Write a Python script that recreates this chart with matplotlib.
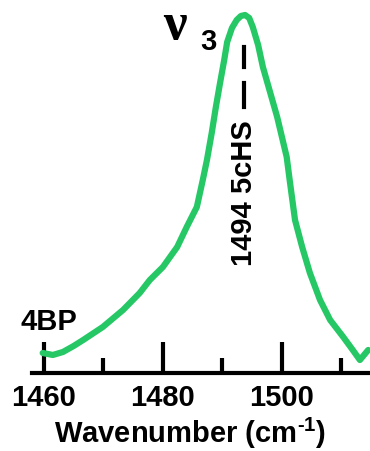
import matplotlib.pyplot as plt
import numpy as np

# Raman spectrum (wavenumber, intensity in arbitrary units)
wavenumber = [1459.8, 1461.5, 1463.2, 1465.0, 1466.6, 1469.9, 1473.3, 1476.1,
              1477.8, 1480.0, 1482.4, 1484.0, 1485.7, 1486.7, 1487.4, 1488.2,
              1488.9, 1489.6, 1490.3, 1490.8, 1491.6, 1492.4, 1493.1, 1493.8,
              1494.5, 1495.1, 1496.0, 1496.8, 1498.0, 1499.2, 1500.8, 1501.3,
              1502.2, 1503.4, 1504.7, 1506.4, 1508.1, 1510.3, 1511.9, 1513.1,
              1514.5]
intensity = [20, 18, 21, 27, 33, 46, 63, 80,
             93, 106, 126, 146, 166, 193, 213, 240,
             266, 290, 313, 331, 345, 353, 357, 358,
             355, 346, 328, 306, 281, 256, 216, 193,
             153, 126, 100, 73, 53, 36, 23, 13,
             23]

major_ticks = [1460, 1480, 1500]
minor_ticks = [1470, 1490, 1510]
band_pos = 1493.6
band_label = '1494 5cHS'

plt.rcParams['font.family'] = ['Liberation Sans', 'DejaVu Sans']
plt.rcParams['mathtext.fontset'] = 'custom'
plt.rcParams['mathtext.bf'] = 'Liberation Sans:bold'
plt.rcParams['mathtext.rm'] = 'Liberation Sans'

fig = plt.figure(figsize=(3.7, 4.51), dpi=100)
ax = fig.add_axes([0.0865, 0.173, 0.9135, 0.827])

ax.plot(wavenumber, intensity, color='#25c865', lw=4.5, solid_capstyle='round')

ax.set_xlim(1458.0, 1514.8)
ax.set_ylim(0, 373)

for s in ['top', 'right', 'left']:
    ax.spines[s].set_visible(False)
ax.spines['bottom'].set_linewidth(3)
ax.set_yticks([])
ax.set_xticks(major_ticks)
ax.set_xticks(minor_ticks, minor=True)
ax.tick_params(axis='x', which='major', direction='in', length=22, width=3,
               labelsize=21, pad=8)
ax.tick_params(axis='x', which='minor', direction='in', length=11, width=3)
for lab in ax.get_xticklabels():
    lab.set_fontweight('bold')

ax.set_xlabel('Wavenumber (cm$^{\\mathbf{\u2010\u0031}}$)', fontsize=21,
              fontweight='bold', labelpad=4)
ax.xaxis.set_label_coords(0.468, -0.115)

# band marker
ax.plot([band_pos, band_pos], [306, 326], color='black', lw=3)
ax.plot([band_pos, band_pos], [266, 290], color='black', lw=3)
ax.text(band_pos, 180, band_label, rotation=90, ha='center', va='center',
        fontsize=21, fontweight='bold')

ax.text(-0.035, 0.1, '4BP', transform=ax.transAxes, fontsize=21,
        fontweight='bold', ha='left', va='bottom')
ax.text(0.388, 0.895, '\u03bd', transform=ax.transAxes, fontsize=38,
        family='Liberation Serif', fontweight='bold', ha='left', va='baseline')
ax.text(0.497, 0.866, '3', transform=ax.transAxes, fontsize=21,
        fontweight='bold', ha='left', va='baseline')

fig.savefig('out.png', dpi=100)
